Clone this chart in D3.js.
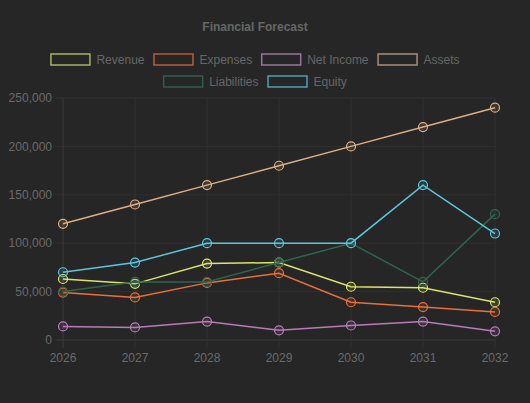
<!DOCTYPE html>
<html lang="en">
<head>
    <meta charset="UTF-8">
    <style>
        html, body {
            margin:0;
            height:100%;
            overflow:hidden;
            background:#262626;
        }
        svg {
            position:absolute;
            top:0;
            left:0;
        }
        text {
            font-family:"Liberation Sans", Arial, sans-serif;
        }
    </style>
    <script src="https://d3js.org/d3.v7.min.js"></script>
</head>
<body>
<svg width="530" height="403"></svg>
<script>
    // chart data
    var years = ["2026", "2027", "2028", "2029", "2030", "2031", "2032"];
    var revenue = [63000, 58000, 79000, 80000, 55000, 54000, 39000];
    var expenses = [49000, 44000, 59000, 69000, 39000, 34000, 29000];
    var netIncome = [14000, 13000, 19000, 10000, 15000, 19000, 9000];
    var assets = [120000, 140000, 160000, 180000, 200000, 220000, 240000];
    var liabilities = [50000, 60000, 60000, 80000, 100000, 60000, 130000];
    var equity = [70000, 80000, 100000, 100000, 100000, 160000, 110000];
    var yTicks = [0, 50000, 100000, 150000, 200000, 250000];

    var series = [
        {name: "Revenue", values: revenue, color: "#dbe46c", legend: "#a9b165"},
        {name: "Expenses", values: expenses, color: "#e8703c", legend: "#b85e3c"},
        {name: "Net Income", values: netIncome, color: "#b97cb9", legend: "#9c739c"},
        {name: "Assets", values: assets, color: "#dcae84", legend: "#a88e76"},
        {name: "Liabilities", values: liabilities, color: "#2d6550", legend: "#2f5e4c"},
        {name: "Equity", values: equity, color: "#5cc6de", legend: "#4f9fb2"}
    ];

    var svg = d3.select("svg");
    var margin = {top: 98, right: 35, bottom: 63, left: 63};
    var width = 530 - margin.left - margin.right;
    var height = 403 - margin.top - margin.bottom;

    var x = d3.scalePoint().domain(years).range([0, width]);
    var y = d3.scaleLinear().domain([0, 250000]).range([height, 0]);

    var g = svg.append("g")
        .attr("transform", "translate(" + margin.left + "," + margin.top + ")");

    // grid
    g.append("g").selectAll("line")
        .data(yTicks)
        .enter().append("line")
        .attr("x1", -8).attr("x2", width)
        .attr("y1", function(d) { return y(d); })
        .attr("y2", function(d) { return y(d); })
        .attr("stroke", function(d) { return d === 0 ? "#3a3a3a" : "#303030"; });

    g.append("g").selectAll("line")
        .data(years)
        .enter().append("line")
        .attr("x1", function(d) { return x(d); })
        .attr("x2", function(d) { return x(d); })
        .attr("y1", 0).attr("y2", height + 8)
        .attr("stroke", function(d, i) { return i === 0 ? "#3a3a3a" : "#303030"; });

    // axes labels
    var fmt = d3.format(",");
    g.append("g").selectAll("text")
        .data(yTicks)
        .enter().append("text")
        .attr("x", -11)
        .attr("y", function(d) { return y(d); })
        .attr("dy", "0.35em")
        .attr("text-anchor", "end")
        .attr("fill", "#6a6a6a")
        .style("font-size", "12px")
        .text(function(d) { return fmt(d); });

    g.append("g").selectAll("text")
        .data(years)
        .enter().append("text")
        .attr("x", function(d) { return x(d); })
        .attr("y", height + 22)
        .attr("text-anchor", "middle")
        .attr("fill", "#6a6a6a")
        .style("font-size", "12px")
        .text(function(d) { return d; });

    // lines and points
    var line = d3.line()
        .x(function(d, i) { return x(years[i]); })
        .y(function(d) { return y(d); });

    series.forEach(function(s) {
        g.append("path")
            .datum(s.values)
            .attr("d", line)
            .attr("fill", "none")
            .attr("stroke", s.color)
            .attr("stroke-width", 1.5);

        g.append("g").selectAll("circle")
            .data(s.values)
            .enter().append("circle")
            .attr("cx", function(d, i) { return x(years[i]); })
            .attr("cy", function(d) { return y(d); })
            .attr("r", 4.5)
            .attr("fill", s.color)
            .attr("fill-opacity", 0.12)
            .attr("stroke", s.color)
            .attr("stroke-width", 1.2);
    });

    // title
    svg.append("text")
        .attr("x", 255)
        .attr("y", 31)
        .attr("text-anchor", "middle")
        .attr("fill", "#666")
        .style("font-size", "12px")
        .style("font-weight", "bold")
        .text("Financial Forecast");

    // legend, two centred rows
    var rows = [series.slice(0, 4), series.slice(4)];
    rows.forEach(function(row, r) {
        var lg = svg.append("g");
        var cx = 0;
        row.forEach(function(s) {
            var item = lg.append("g").attr("transform", "translate(" + cx + ",0)");
            item.append("rect")
                .attr("x", 0.5).attr("y", -6)
                .attr("width", 39).attr("height", 11)
                .attr("fill", "none")
                .attr("stroke", s.legend)
                .attr("stroke-width", 1.5);
            var t = item.append("text")
                .attr("x", 46)
                .attr("dy", "0.35em")
                .attr("fill", "#666")
                .style("font-size", "12px")
                .text(s.name);
            cx += 46 + t.node().getComputedTextLength() + 9;
        });
        var total = cx - 9;
        lg.attr("transform", "translate(" + (255 - total / 2) + "," + (60 + r * 22) + ")");
    });
</script>
</body>
</html>
